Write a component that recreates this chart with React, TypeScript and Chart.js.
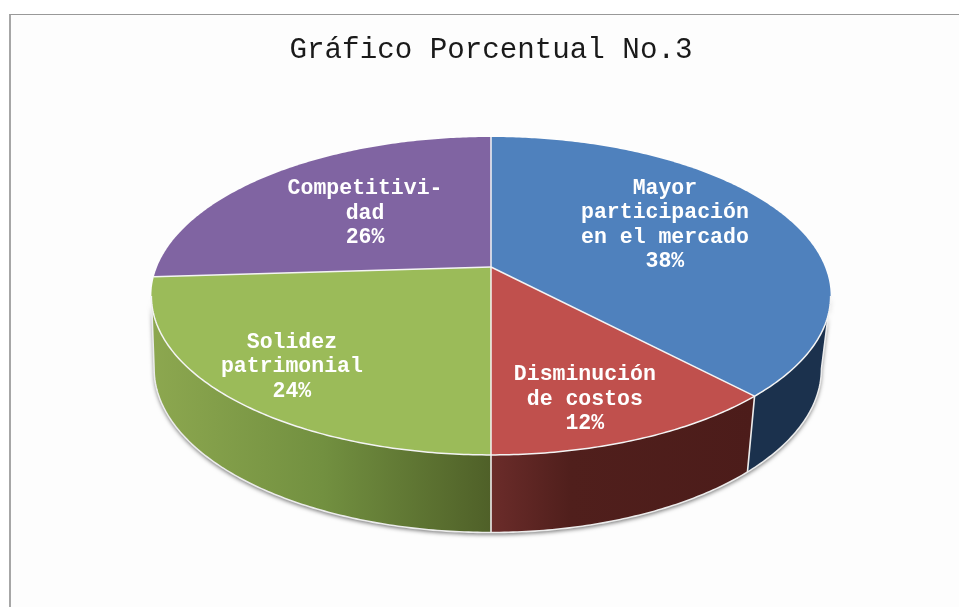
import React, { useEffect, useRef } from "react";
import { Chart, registerables } from "chart.js";

Chart.register(...registerables);

const titleText = "Gráfico Porcentual No.3";
const categories = ["Mayor participación en el mercado", "Disminución de costos", "Solidez patrimonial", "Competitividad"];
const categoryLines = [["Mayor", "participación", "en el mercado"], ["Disminución", "de costos"], ["Solidez", "patrimonial"], ["Competitivi-", "dad"]];
const values = [38, 12, 24, 26];

const topColors = ["#4f81bd", "#c0504d", "#9bbb59", "#8064a2"];
const wallStops = [
  [[0, "#1b314d"], [1, "#1b314d"]],
  [[0, "#6b2c2a"], [0.3, "#501f1c"], [1, "#4c1c1a"]],
  [[0, "#8ca74f"], [0.5, "#729040"], [1, "#4f6028"]],
  [[0, "#5a4672"], [1, "#5a4672"]],
];
const wallSpan = [[748, 830], [491, 755], [155, 491], [150, 160]];
const labelFraction = [0.619, 0.782, 0.789, 0.55];
const labelTurnDeg = [-6.1, 3.5, -0.7, -0.3];

// Perspective of the disc, relative to the pie radius Chart.js computes
const TILT = 0.182;
const STRETCH_X = 1.786;
const STRETCH_Y = 0.822;
const FLOOR_SCALE_RIGHT = 0.973;
const FLOOR_SCALE_LEFT = 0.992;
const FLOOR_SCALE_Y = 1.03;
const FLOOR_DROP = 0.385;

type Pt = [number, number];

const pie3d = {
  id: "pie3d",
  beforeDatasetDraw(chart: any) {
    const ctx: CanvasRenderingContext2D = chart.ctx;
    const arcs: any[] = chart.getDatasetMeta(0).data;
    const { x: cx, y: cy, outerRadius: R } = arcs[0];
    const wallFrom = Math.asin(TILT);
    const wallTo = Math.PI - wallFrom;

    const top = (a: number, f = 1): Pt => {
      const u = Math.cos(a) * f;
      const v = Math.sin(a) * f;
      const d = 1 - TILT * v;
      return [cx + (R * STRETCH_X * u) / d, cy + (R * STRETCH_Y * v) / d];
    };
    const floor = (a: number): Pt => {
      const [x, y] = top(a);
      const sx = x > cx ? FLOOR_SCALE_RIGHT : FLOOR_SCALE_LEFT;
      return [cx + (x - cx) * sx, cy + (y - cy) * FLOOR_SCALE_Y + R * FLOOR_DROP];
    };
    const sweep = (from: number, to: number, fn: (a: number) => Pt): Pt[] => {
      const n = Math.max(2, Math.ceil(Math.abs(to - from) * 90));
      const pts: Pt[] = [];
      for (let i = 0; i <= n; i++) pts.push(fn(from + ((to - from) * i) / n));
      return pts;
    };
    const trace = (pts: Pt[], close = false) => {
      ctx.beginPath();
      pts.forEach(([x, y], i) => (i ? ctx.lineTo(x, y) : ctx.moveTo(x, y)));
      if (close) ctx.closePath();
    };

    // drop shadow of the whole rim
    ctx.save();
    const rim = [...sweep(wallFrom, wallTo, top), ...sweep(wallTo, wallFrom, floor)];
    ctx.shadowColor = "rgba(0,0,0,0.55)";
    ctx.shadowBlur = 4;
    ctx.shadowOffsetY = 2;
    ctx.fillStyle = "#888";
    trace(rim, true);
    ctx.fill();
    ctx.restore();

    // walls
    arcs.forEach((arc, i) => {
      const s = Math.max(arc.startAngle, wallFrom);
      const e = Math.min(arc.endAngle, wallTo);
      if (e <= s) return;
      const g = ctx.createLinearGradient(wallSpan[i][0], 0, wallSpan[i][1], 0);
      wallStops[i].forEach(([o, c]) => g.addColorStop(o as number, c as string));
      ctx.fillStyle = g;
      trace([...sweep(s, e, top), ...sweep(e, s, floor)], true);
      ctx.fill();
    });

    // wall outline and separators
    ctx.strokeStyle = "#ececec";
    ctx.lineWidth = 1.6;
    ctx.lineJoin = "round";
    trace([top(wallFrom), ...sweep(wallFrom, wallTo, floor), top(wallTo)]);
    ctx.stroke();
    arcs.forEach((arc) => {
      const a = arc.endAngle;
      if (a > wallFrom && a < wallTo) {
        trace([top(a), floor(a)]);
        ctx.stroke();
      }
    });

    // top face
    arcs.forEach((arc, i) => {
      ctx.fillStyle = topColors[i];
      trace([[cx, cy], ...sweep(arc.startAngle, arc.endAngle, top)], true);
      ctx.fill();
    });
    ctx.strokeStyle = "#f4f4f4";
    ctx.lineWidth = 1.5;
    trace(sweep(wallFrom, wallTo, top));
    ctx.stroke();
    arcs.forEach((arc) => {
      trace([[cx, cy], top(arc.startAngle)]);
      ctx.stroke();
    });

    // labels
    ctx.fillStyle = "#ffffff";
    ctx.font = "bold 21.5px 'Liberation Mono'";
    ctx.textAlign = "center";
    ctx.textBaseline = "middle";
    const total = values.reduce((p, c) => p + c, 0);
    arcs.forEach((arc, i) => {
      const mid = (arc.startAngle + arc.endAngle) / 2 + (labelTurnDeg[i] * Math.PI) / 180;
      const [x, y] = top(mid, labelFraction[i]);
      const lines = [...categoryLines[i], `${Math.round((values[i] / total) * 100)}%`];
      const lh = 24.2;
      lines.forEach((t, k) => ctx.fillText(t, x, y + (k - (lines.length - 1) / 2) * lh));
    });
    return false;
  },
};

export default function App() {
  const ref = useRef<HTMLCanvasElement>(null);
  useEffect(() => {
    document.body.style.margin = "0";
    document.body.style.overflow = "hidden";
    const chart = new Chart(ref.current as HTMLCanvasElement, {
      type: "pie",
      data: {
        labels: categories,
        datasets: [{ data: values, backgroundColor: topColors, borderWidth: 0 }],
      },
      options: {
        responsive: false,
        animation: false,
        events: [],
        layout: { padding: { left: 23, right: 0, top: 0, bottom: 153 } },
        plugins: {
          legend: { display: false },
          tooltip: { enabled: false },
          title: {
            display: true,
            text: titleText,
            color: "#1a1a1a",
            font: { family: "'Liberation Mono'", size: 29.2, weight: "normal" },
            padding: { top: 33, bottom: 12 },
          },
        },
      },
      plugins: [pie3d],
    } as any);
    return () => chart.destroy();
  }, []);
  return (
    <div style={{ position: "relative", width: 959, height: 607, background: "#ffffff", overflow: "hidden" }}>
      <div
        style={{
          position: "absolute",
          left: 9,
          top: 14,
          right: 0,
          bottom: 0,
          background: "#fdfdfd",
          borderLeft: "2px solid #a6a6a6",
          borderTop: "1px solid #999999",
        }}
      />
      <canvas ref={ref} width={959} height={607} style={{ position: "absolute", left: 0, top: 0, display: "block" }} />
    </div>
  );
}
